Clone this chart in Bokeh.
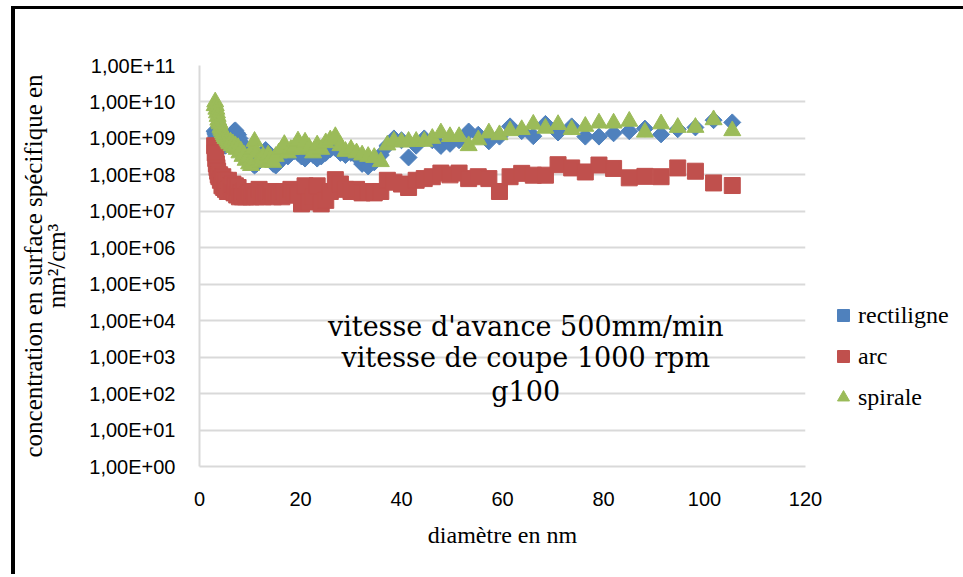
import math
from bokeh.plotting import figure
from bokeh.models import (FixedTicker, CustomJSTickFormatter, Label, Legend,
                          LegendItem, Range1d)
from bokeh.embed import file_html
from bokeh.resources import INLINE

# ---------------- data ----------------
diametre = [3.0, 3.11, 3.22, 3.34, 3.46, 3.59, 3.72, 3.85, 4.0, 4.14, 4.29, 4.45,
            4.61, 4.79, 4.96, 5.14, 5.33, 5.52, 5.73, 5.94, 6.15, 6.38, 6.61, 6.85,
            7.1, 7.37, 7.64, 7.91, 8.2, 8.51, 8.82, 9.14, 9.47, 9.82, 10.2, 10.6,
            10.9, 11.3, 11.8, 12.2, 12.6, 13.1, 13.6, 14.1, 14.6, 15.1, 15.7, 16.3,
            16.8, 17.5, 18.1, 18.8, 19.5, 20.2, 20.9, 21.7, 22.5, 23.3, 24.1, 25.0,
            25.9, 26.9, 27.9, 28.9, 30.0, 31.1, 32.2, 33.4, 34.6, 35.9, 37.2, 38.5,
            40.0, 41.4, 42.9, 44.5, 46.1, 47.8, 49.6, 51.4, 53.3, 55.2, 57.3, 59.4,
            61.5, 63.8, 66.1, 68.5, 71.0, 73.7, 76.4, 79.1, 82.0, 85.1, 88.2, 91.4,
            94.7, 98.2, 101.8, 105.5]

rectiligne = [1.58e9, 1.41e9, 1.26e9, 1.12e9, 1.26e9, 1.0e9, 1.12e9, 8.9e8, 1.0e9, 7.9e8,
              8.9e8, 7.1e8, 7.9e8, 6.3e8, 7.1e8, 6.3e8, 7.1e8, 7.9e8, 8.9e8, 1.0e9,
              1.12e9, 1.26e9, 1.41e9, 1.58e9, 1.66e9, 1.41e9, 1.26e9, 1.0e9, 7.9e8, 5.0e8,
              4.0e8, 3.2e8, 2.8e8, 2.5e8, 2.2e8, 2.0e8, 1.8e8, 2.0e8, 2.5e8, 3.2e8,
              4.0e8, 4.8e8, 4.0e8, 2.8e8, 2.0e8, 1.8e8, 2.2e8, 2.8e8, 3.5e8, 3.2e8,
              4.0e8, 4.5e8, 4.0e8, 3.2e8, 2.8e8, 4.0e8, 3.5e8, 2.8e8, 3.2e8, 4.0e8,
              5.0e8, 5.4e8, 4.0e8, 3.5e8, 4.0e8, 3.2e8, 2.0e8, 1.7e8, 2.2e8, 3.5e8,
              6.3e8, 1.0e9, 8.9e8, 3.0e8, 6.3e8, 1.0e9, 8.9e8, 6.2e8, 7.1e8, 8.9e8,
              1.55e9, 1.26e9, 8.3e8, 1.12e9, 2.14e9, 1.58e9, 1.15e9, 2.5e9, 1.45e9, 2.14e9,
              1.12e9, 1.12e9, 1.38e9, 1.58e9, 1.86e9, 1.29e9, 1.78e9, 2.0e9, 3.16e9, 2.75e9]

arc = [6.3e8, 4.0e8, 2.8e8, 2.0e8, 1.58e8, 1.26e8, 1.0e8, 8.9e7, 1.0e8, 7.1e7,
       7.9e7, 5.0e7, 8.9e7, 4.5e7, 7.1e7, 4.0e7, 6.3e7, 3.5e7, 7.1e7, 4.0e7,
       5.0e7, 3.5e7, 5.6e7, 3.2e7, 5.0e7, 2.8e7, 4.5e7, 2.5e7, 3.2e7, 2.5e7,
       3.5e7, 2.5e7, 2.8e7, 3.2e7, 2.5e7, 3.5e7, 2.8e7, 2.5e7, 4.0e7, 2.8e7,
       2.5e7, 3.2e7, 2.8e7, 3.5e7, 2.5e7, 3.2e7, 2.8e7, 2.5e7, 3.5e7, 2.8e7,
       4.0e7, 3.2e7, 2.8e7, 1.6e7, 5.0e7, 1.8e7, 2.5e7, 5.0e7, 1.6e7, 2.0e7,
       3.5e7, 7.4e7, 5.6e7, 4.0e7, 3.5e7, 4.0e7, 3.2e7, 3.5e7, 3.2e7, 3.5e7,
       7.1e7, 6.3e7, 5.6e7, 4.5e7, 7.1e7, 7.9e7, 8.9e7, 1.12e8, 1.0e8, 1.12e8,
       7.9e7, 8.9e7, 7.9e7, 3.5e7, 8.9e7, 1.1e8, 9.8e7, 9.8e7, 1.9e8, 1.55e8,
       1.2e8, 1.86e8, 1.5e8, 8.3e7, 9.1e7, 8.9e7, 1.55e8, 1.26e8, 6.0e7, 5.1e7]

spirale = [7.9e9, 1.0e10, 7.9e9, 6.3e9, 5.0e9, 4.0e9, 3.16e9, 2.8e9, 2.5e9, 2.0e9,
           1.78e9, 1.58e9, 1.41e9, 1.26e9, 1.12e9, 1.0e9, 1.0e9, 8.9e8, 7.9e8, 7.1e8,
           7.9e8, 6.3e8, 7.1e8, 5.6e8, 6.3e8, 5.0e8, 5.6e8, 4.0e8, 4.5e8, 3.2e8,
           3.5e8, 2.5e8, 2.8e8, 2.0e8, 1.8e8, 5.0e8, 8.3e8, 4.0e8, 2.5e8, 2.2e8,
           3.2e8, 2.5e8, 3.5e8, 2.8e8, 2.2e8, 3.2e8, 4.0e8, 5.0e8, 6.8e8, 4.0e8,
           5.0e8, 5.6e8, 8.5e8, 5.0e8, 7.9e8, 5.6e8, 4.0e8, 6.6e8, 5.0e8, 7.6e8,
           9.1e8, 1.12e9, 6.3e8, 4.4e8, 5.0e8, 4.0e8, 3.5e8, 3.2e8, 3.0e8, 2.3e8,
           6.6e8, 8.3e8, 7.9e8, 8.3e8, 8.3e8, 8.3e8, 1.0e9, 1.41e9, 1.12e9, 1.12e9,
           6.3e8, 9.1e8, 1.41e9, 1.26e9, 1.62e9, 1.74e9, 2.45e9, 1.9e9, 2.4e9, 1.74e9,
           2.14e9, 2.63e9, 2.63e9, 2.95e9, 1.48e9, 2.5e9, 2.0e9, 2.0e9, 3.24e9, 1.62e9]

series_names = ["rectiligne", "arc", "spirale"]
x_ticks = [0, 20, 40, 60, 80, 100, 120]
y_ticks = [1e0, 1e1, 1e2, 1e3, 1e4, 1e5, 1e6, 1e7, 1e8, 1e9, 1e10, 1e11]
y_tick_labels = ["1,00E+00", "1,00E+01", "1,00E+02", "1,00E+03", "1,00E+04", "1,00E+05",
                 "1,00E+06", "1,00E+07", "1,00E+08", "1,00E+09", "1,00E+10", "1,00E+11"]
annotation_lines = ["vitesse d'avance 500mm/min", "vitesse de coupe 1000 rpm", "g100"]

# ---------------- figure ----------------
GRID = "#D9D9D9"
SANS = "Liberation Sans"
SERIF = "Liberation Serif"

p = figure(frame_width=606, frame_height=401,
           min_border_left=184, min_border_right=155,
           min_border_top=56, min_border_bottom=108,
           x_range=Range1d(0, 120), y_range=Range1d(1, 1e11),
           y_axis_type="log", output_backend="svg", toolbar_location=None,
           background_fill_color="white", border_fill_color="white")
p.margin = (6, 0, 0, 11)
p.styles = {"border-top": "3px solid black", "border-left": "4px solid black"}
p.outline_line_color = None

p.xaxis.ticker = FixedTicker(ticks=x_ticks)
p.yaxis.ticker = FixedTicker(ticks=y_ticks)
p.yaxis.formatter = CustomJSTickFormatter(
    args=dict(labels=y_tick_labels),
    code="return labels[Math.round(Math.log10(tick))];")

for ax in (p.xaxis[0], p.yaxis[0]):
    ax.axis_line_color = GRID
    ax.axis_line_width = 2
    ax.major_tick_line_color = None
    ax.minor_tick_line_color = None
    ax.major_tick_out = 0
    ax.major_tick_in = 0
    ax.major_label_text_font = SANS
    ax.major_label_text_font_size = "20px"
    ax.major_label_text_color = "#000000"
    ax.axis_label_text_font = SERIF
    ax.axis_label_text_font_style = "normal"
    ax.axis_label_text_color = "#000000"

p.xaxis.major_label_standoff = 25
p.yaxis.major_label_standoff = 24
p.xaxis.axis_label = "diamètre en nm"
p.xaxis.axis_label_text_font_size = "24px"
p.xaxis.axis_label_standoff = 13
p.yaxis.axis_label = "concentration en surface spécifique en\nnm²/cm³"
p.yaxis.axis_label_text_font_size = "25px"
p.yaxis.axis_label_text_line_height = 0.85
p.yaxis.axis_label_standoff = 16

p.xgrid.grid_line_color = None
p.ygrid.grid_line_color = GRID
p.ygrid.grid_line_width = 2

r1 = p.scatter(diametre, rectiligne, marker="square", angle=math.pi / 4, size=12,
               fill_color="#4F81BD", line_color="#4F81BD")
r2 = p.scatter(diametre, arc, marker="square", size=16,
               fill_color="#C0504D", line_color="#C0504D")
r3 = p.scatter(diametre, spirale, marker="triangle", size=17,
               fill_color="#9BBB59", line_color="#9BBB59")

legend = Legend(items=[LegendItem(label=series_names[0], renderers=[r1]),
                       LegendItem(label=series_names[1], renderers=[r2]),
                       LegendItem(label=series_names[2], renderers=[r3])],
                location=(23, 54), orientation="vertical",
                glyph_width=30, glyph_height=30, label_standoff=-3, spacing=11,
                padding=0, margin=0, border_line_color=None,
                background_fill_alpha=0,
                label_text_font=SERIF, label_text_font_size="24px",
                label_text_color="#000000")
p.add_layout(legend, "right")

label_y = [10 ** 3.85, 10 ** 3.0, 10 ** 2.05]
for txt, yy in zip(annotation_lines, label_y):
    p.add_layout(Label(x=64.6, y=yy, text=txt, text_align="center",
                       text_baseline="middle", text_font="DejaVu Serif",
                       text_font_size="27px", text_color="#000000"))

open("out.html", "w").write(file_html(p, INLINE))
